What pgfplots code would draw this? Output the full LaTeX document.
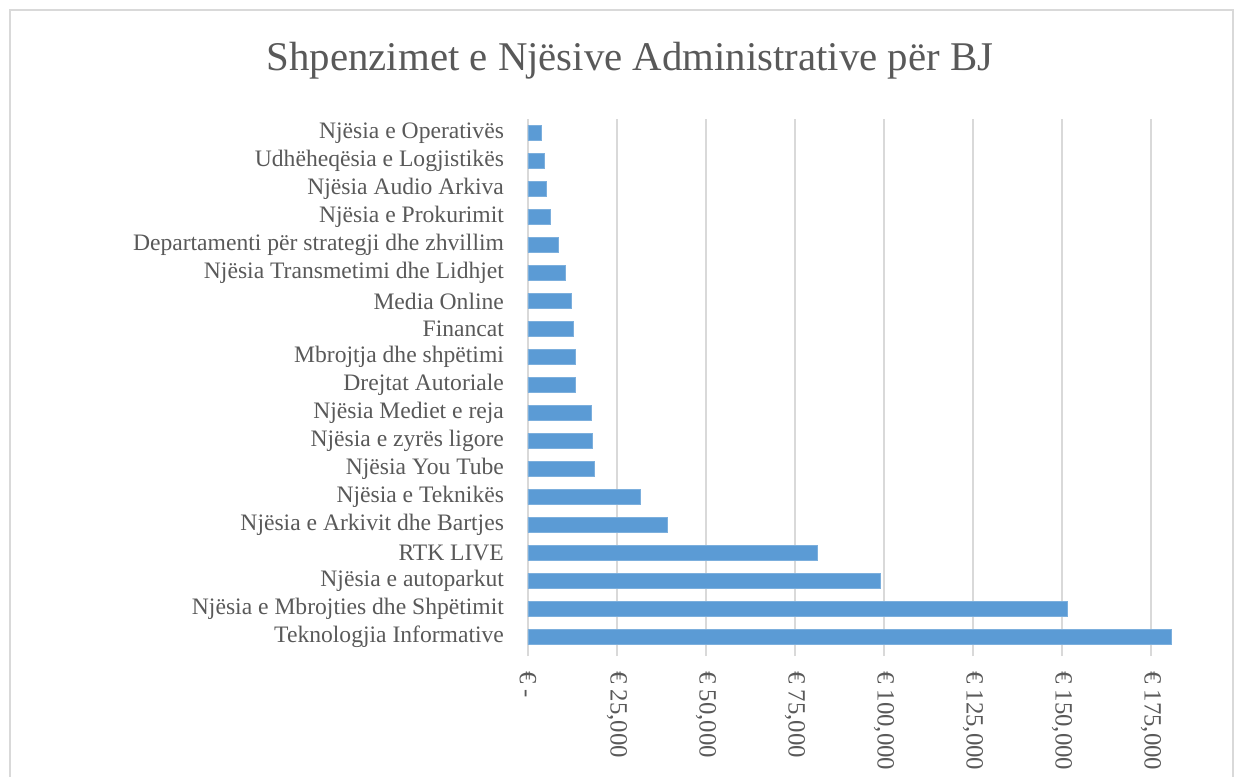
\documentclass[border=0pt]{standalone}
\usepackage{pgfplots}
\pgfplotsset{compat=1.18}
\usepackage{fontspec}
\setmainfont{Liberation Serif}
\definecolor{barblue}{HTML}{5B9BD5}
\definecolor{txt}{HTML}{595959}
\definecolor{gridc}{HTML}{D9D9D9}
\begin{document}
\begin{tikzpicture}
\path[use as bounding box] (0,0) rectangle (622pt,388.5pt);
\draw[gridc, line width=0.6pt] (5pt,-20pt) rectangle (616.5pt,383.5pt);
\node[txt, font=\fontsize{20.4}{24}\selectfont] at (315pt,358pt) {Shpenzimet e Njësive Administrative për BJ};
\begin{axis}[
  at={(264pt,63pt)}, anchor=south west,
  scale only axis, width=329.3pt, height=266pt,
  xbar, bar width=7.5pt,
  xmin=0, xmax=185000, ymin=-0.5, ymax=18.5,
  axis lines*=left,
  x axis line style={draw=none},
  y axis line style={draw=gridc, line width=0.8pt},
  xmajorgrids, grid style={gridc, line width=0.9pt},
  xtick={0,25000,50000,75000,100000,125000,150000,175000},
  xticklabels={{€ -},{€ 25,000},{€ 50,000},{€ 75,000},{€ 100,000},{€ 125,000},{€ 150,000},{€ 175,000}},
  xticklabel style={rotate=-90, anchor=west, font=\fontsize{12.4}{14}\selectfont, text=txt},
  xticklabel shift=4pt,
  tick align=outside, major tick length=2.5pt,
  x tick style={gridc, line width=0.9pt},
  ytick={0,...,18},
  yticklabels={Teknologjia Informative,Njësia e Mbrojties dhe Shpëtimit,Njësia e autoparkut,RTK LIVE,Njësia e Arkivit dhe Bartjes,Njësia e Teknikës,Njësia You Tube,Njësia e zyrës ligore,Njësia Mediet e reja,Drejtat Autoriale,Mbrojtja dhe shpëtimi,Financat,Media Online,Njësia Transmetimi dhe Lidhjet,Departamenti për strategji dhe zhvillim,Njësia e Prokurimit,Njësia Audio Arkiva,Udhëheqësia e Logjistikës,Njësia e Operativës},
  yticklabel style={anchor=east, font=\fontsize{11.8}{13}\selectfont, text=txt},
  yticklabel shift=6pt,
  y tick style={draw=none},
  clip=false,
]
\addplot[fill=barblue, draw=barblue!80!white, line width=0.3pt] coordinates {
(180700,0) (151500,1) (98900,2) (81400,3) (39100,4) (31500,5) (18500,6) (18100,7) (17900,8) (13200,9) (13200,10) (12800,11) (12300,12) (10500,13) (8600,14) (6200,15) (5200,16) (4500,17) (3800,18)
};
\end{axis}
\end{tikzpicture}
\end{document}
